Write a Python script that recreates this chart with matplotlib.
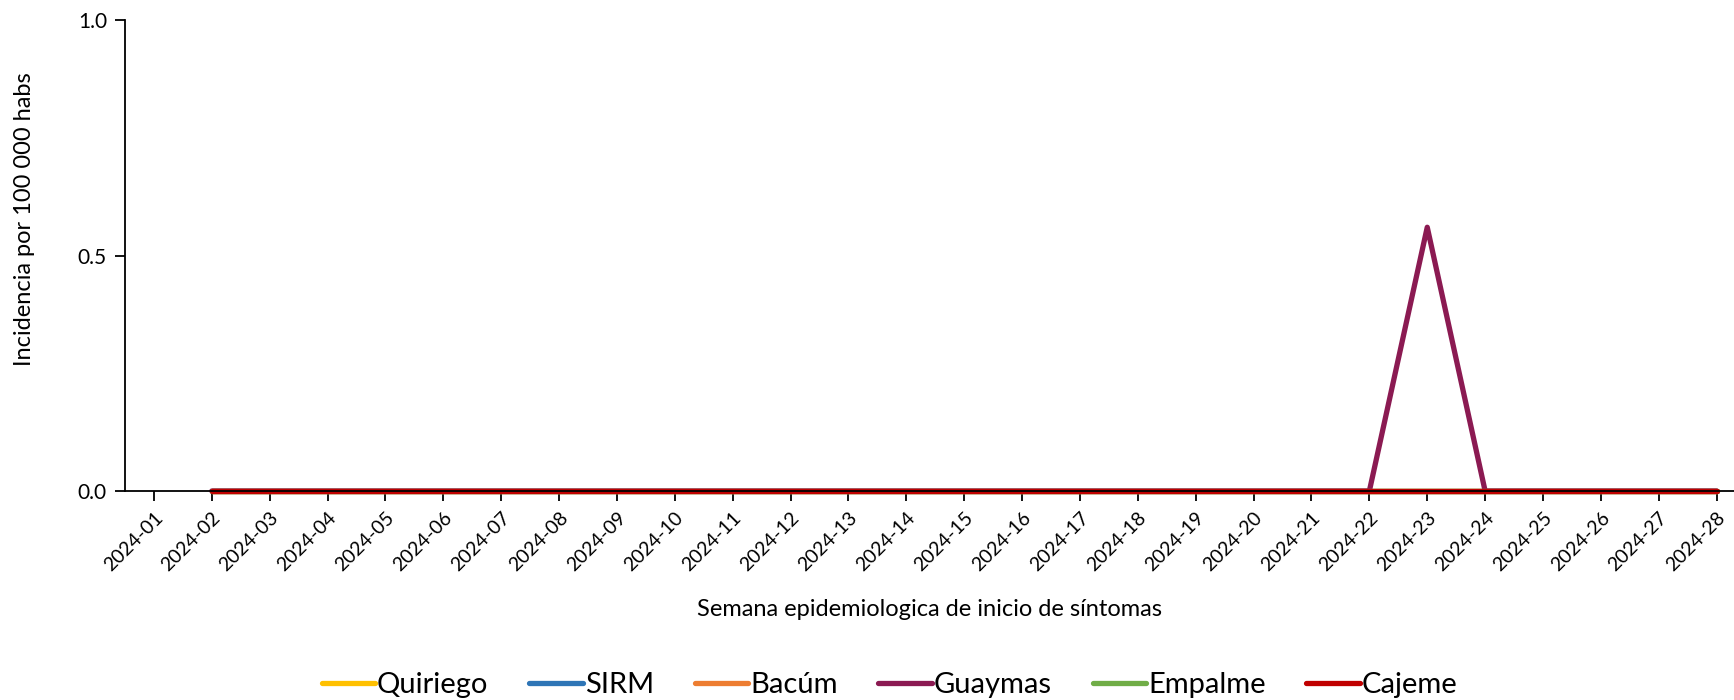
import matplotlib
matplotlib.use("Agg")
import matplotlib.pyplot as plt
import numpy as np

plt.rcParams['font.family'] = ['Lato', 'DejaVu Sans']

weeks = [f"2024-{i:02d}" for i in range(1, 29)]
nan = np.nan
quiriego = [nan] + [0.0] * 27
sirm = [nan] + [0.0] * 27
bacum = [nan] + [0.0] * 27
guaymas = [nan] + [0.0] * 20 + [0.0, 0.56, 0.0] + [0.0] * 4
empalme = [nan] + [0.0] * 27
cajeme = [nan] + [0.0] * 27

series = [
    ("Quiriego", quiriego, "#FFC000"),
    ("SIRM", sirm, "#2E75B6"),
    ("Bacúm", bacum, "#ED7D31"),
    ("Guaymas", guaymas, "#8B1A52"),
    ("Empalme", empalme, "#70AD47"),
    ("Cajeme", cajeme, "#C00000"),
]

fig = plt.figure(figsize=(17.34, 7.0), dpi=100)
ax = fig.add_axes([125/1734, 1 - 491/700, 1 - 125/1734, (491 - 20)/700])

x = np.arange(1, len(weeks) + 1)
for name, vals, col in series:
    ax.plot(x, vals, color=col, lw=3.8, label=name, solid_capstyle='round',
            solid_joinstyle='round', clip_on=False)

ax.set_xlim(0.5, 28.3)
ax.set_ylim(0, 1.0)
ax.set_yticks([0.0, 0.5, 1.0])
ax.set_yticklabels(["0.0", "0.5", "1.0"])
ax.set_xticks(x)
ax.set_xticklabels(weeks, rotation=45, ha='right', rotation_mode='anchor')
for s in ['top', 'right']:
    ax.spines[s].set_visible(False)
for s in ['left', 'bottom']:
    ax.spines[s].set_linewidth(1.3)
ax.tick_params(axis='both', direction='out', length=7, width=1.3, labelsize=14, pad=6)
ax.tick_params(axis='y', labelsize=15)
ax.set_xlabel("Semana epidemiologica de inicio de síntomas", fontsize=17, labelpad=18)
ax.set_ylabel("Incidencia por 100 000 habs", fontsize=17)
ax.yaxis.set_label_coords(-0.056, 0.577)

fig.legend(loc='lower center', bbox_to_anchor=(0.513, -0.035), ncol=6, frameon=False,
           fontsize=21, handlelength=1.85, columnspacing=1.4, handletextpad=0.05)

fig.savefig("out.png", dpi=100)
